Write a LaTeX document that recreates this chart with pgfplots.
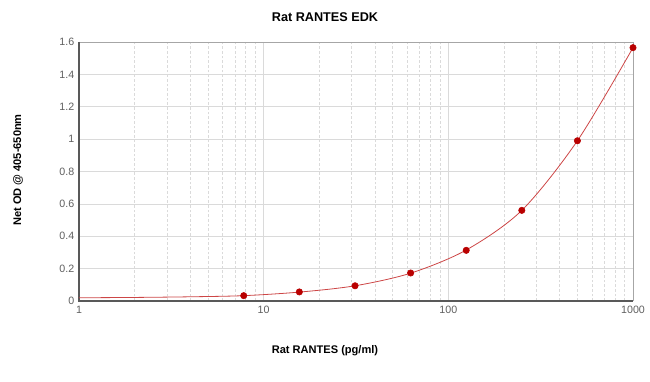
\documentclass[border=0pt]{standalone}
\usepackage{pgfplots}
\pgfplotsset{compat=1.18}
\usepackage{fontspec}
\setmainfont{Liberation Sans}
\definecolor{gridc}{RGB}{218,218,218}
\definecolor{tickc}{RGB}{95,95,95}
\definecolor{curvec}{RGB}{205,70,70}
\definecolor{markc}{RGB}{185,0,0}
\begin{document}
\begin{tikzpicture}
\begin{axis}[
  scale only axis,
  width=415.5pt, height=194.25pt,
  xmode=log, log basis x=10,
  xmin=1, xmax=1000, ymin=0, ymax=1.6,
  xtick={1,10,100,1000}, xticklabels={1,10,100,1000},
  minor xtick={2,3,4,5,6,7,8,9,20,30,40,50,60,70,80,90,200,300,400,500,600,700,800,900},
  ytick={0,0.2,0.4,0.6,0.8,1,1.2,1.4,1.6},
  yticklabels={0,0.2,0.4,0.6,0.8,1,1.2,1.4,1.6},
  tick label style={font=\fontsize{8}{9}\selectfont, text=tickc},
  major tick length=0pt, minor tick length=0pt,
  xmajorgrids, xminorgrids, ymajorgrids,
  major grid style={gridc, line width=0.5pt},
  minor grid style={gridc, dash pattern=on 2pt off 1.5pt, line width=0.5pt},
  axis line style={draw=none},
  clip=false,
]
\draw[gray!70, line width=0.7pt] (rel axis cs:0,1) -- (rel axis cs:1,1) -- (rel axis cs:1,0);
\draw[black!65, line width=0.8pt] (rel axis cs:0,1) -- (rel axis cs:0,0) -- (rel axis cs:1,0);
\addplot[curvec, line width=0.6pt, smooth, no marks] coordinates {
 (1,0.020) (2,0.022) (4,0.026) (7.8,0.033) (15.6,0.055) (31.25,0.094) (62.5,0.172) (125,0.315) (250,0.56) (500,0.99) (1000,1.565)
};
\addplot[only marks, mark=*, mark size=2.4pt, color=markc] coordinates {
 (7.8,0.033) (15.6,0.056) (31.25,0.094) (62.5,0.173) (125,0.313) (250,0.56) (500,0.99) (1000,1.565)
};
\end{axis}
\node[font=\bfseries\fontsize{9.5}{11}\selectfont] at (184.5pt,213pt) {Rat RANTES EDK};
\node[font=\bfseries\fontsize{8.3}{10}\selectfont] at (184.5pt,-37.5pt) {Rat RANTES (pg/ml)};
\node[font=\bfseries\fontsize{8.3}{10}\selectfont, rotate=90] at (-45.75pt,98.25pt) {Net OD @ 405-650nm};
\useasboundingbox (-59.25pt,-60.75pt) rectangle (428.25pt,225.75pt);
\end{tikzpicture}
\end{document}
